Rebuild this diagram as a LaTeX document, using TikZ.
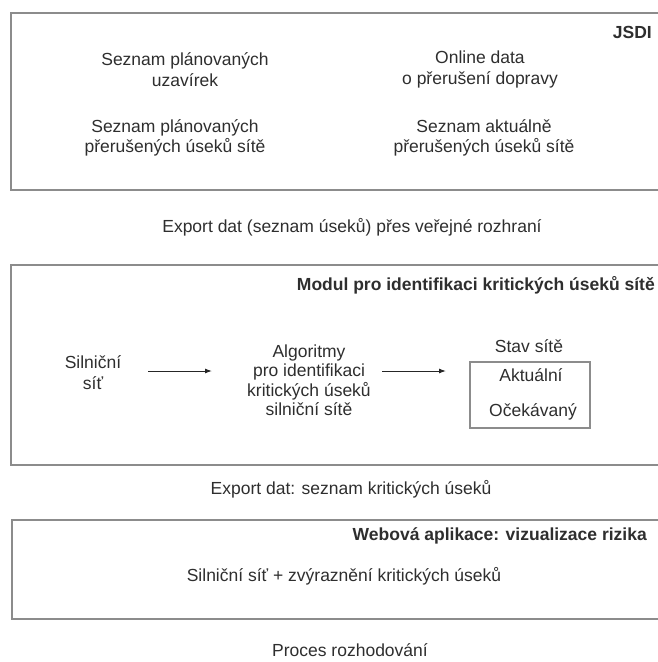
\documentclass[tikz,border=0pt]{standalone}
\usepackage{fontspec}
\setmainfont{Liberation Sans}
\usetikzlibrary{arrows.meta}
\definecolor{txt}{HTML}{2E2E2E}
\definecolor{frame}{HTML}{8C8C8C}
\begin{document}
\begin{tikzpicture}[x=1pt,y=-1pt,
  lbl/.style={text=txt,align=center,inner sep=0pt,font=\fontsize{17.5}{20.5}\selectfont},
  ttl/.style={text=txt,anchor=east,inner sep=0pt,font=\fontsize{17.5}{20.5}\selectfont\bfseries},
  panel/.style={draw=frame,line width=1.6pt},
  conn/.style={draw=black!85,line width=1pt,-{Latex[length=7pt,width=5pt]}}]
\useasboundingbox (0,0) rectangle (657,662);
% panel 1
\draw[panel] (658,13) -- (11,13) -- (11,190) -- (658,190);
\node[ttl] (jsdi) at (652,32) {JSDI};
\node[lbl] (l1) at (185,69.5) {Seznam plánovaných\\uzavírek};
\node[lbl] (r1) at (480,69.5) {Online data\\o přerušení dopravy};
\node[lbl] (l2) at (175,138) {Seznam plánovaných\\přerušených úseků sítě};
\node[lbl] (r2) at (484,138) {Seznam aktuálně\\přerušených úseků sítě};
\node[lbl] (exp1) at (352,227) {Export dat (seznam úseků) přes veřejné rozhraní};
% panel 2
\draw[panel] (658,265) -- (11,265) -- (11,465) -- (658,465);
\node[ttl] (mod) at (655,285) {Modul pro identifikaci kritických úseků sítě};
\node[lbl] (sit) at (93,372.5) {Silniční\\síť};
\node[lbl,font=\fontsize{17.5}{19.5}\selectfont] (alg) at (309,380) {Algoritmy\\pro identifikaci\\kritických úseků\\silniční sítě};
\node[lbl] (stav) at (529,346) {Stav sítě};
\node[draw=frame,line width=1.2pt,minimum width=120pt,minimum height=66pt,inner sep=0pt] (sbox) at (530,395) {};
\node[lbl] (akt) at (531,375) {Aktuální};
\node[lbl] (oce) at (533,412) {Očekávaný};
\coordinate (a1s) at (148,371); \coordinate (a1e) at (212,371);
\coordinate (a2s) at (382,371); \coordinate (a2e) at (446,371);
\draw[conn] (a1s) -- (a1e);
\draw[conn] (a2s) -- (a2e);
\node[lbl] (exp2) at (351,489) {Export dat: seznam kritických úseků};
% panel 3
\draw[panel] (658,520) -- (12,520) -- (12,619) -- (658,619);
\node[ttl] (web) at (647,536) {Webová aplikace: vizualizace rizika};
\node[lbl] (vis) at (344,576) {Silniční síť + zvýraznění kritických úseků};
\node[lbl] (proc) at (350,650) {Proces rozhodování};
\end{tikzpicture}
\end{document}
